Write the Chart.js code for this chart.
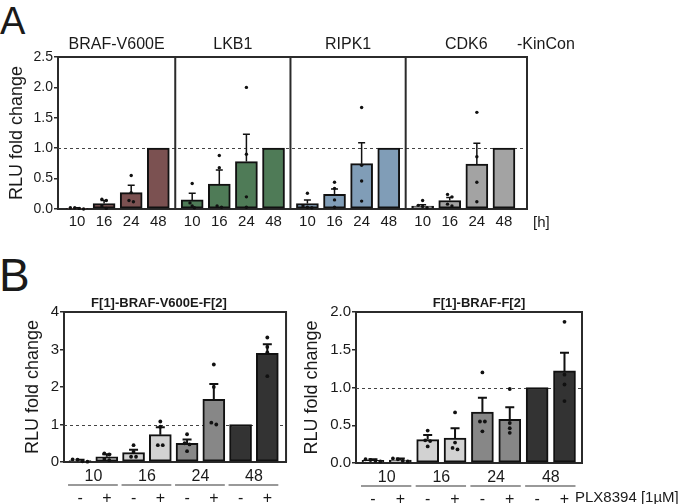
<!DOCTYPE html>
<html>
<head>
<meta charset="utf-8">
<script src="https://cdn.jsdelivr.net/npm/chart.js@4/dist/chart.umd.min.js"></script>
<style>
  body { margin: 0; background: #fff; width: 684px; height: 504px; overflow: hidden; position: relative; font-family: "Liberation Sans", Arial, sans-serif; }
  .panel { position: absolute; }
  .letter { position: absolute; color: #1a1a1a; line-height: 1; }
</style>
</head>
<body>
<div class="letter" style="left:0;top:2px;font-size:38px">A</div>
<div class="letter" style="left:-1px;top:252px;font-size:46px">B</div>
<div class="panel" style="left:0;top:0;width:620px;height:240px"><canvas id="chartA"></canvas></div>
<div class="panel" style="left:0;top:255px;width:300px;height:249px"><canvas id="chartB1"></canvas></div>
<div class="panel" style="left:300px;top:255px;width:384px;height:249px"><canvas id="chartB2"></canvas></div>
<script>
// ---- panel A: kinase constructs over time ----
const kinases = ['BRAF-V600E', 'LKB1', 'RIPK1', 'CDK6'];
const hours = ['10', '16', '24', '48'];
const meanA = [
    [0.01, 0.09, 0.27, 1.0],
    [0.15, 0.41, 0.78, 1.0],
    [0.09, 0.24, 0.745, 1.0],
    [0.05, 0.14, 0.74, 1.0]
];
const semA = [
    [0.01, 0.05, 0.12, 0],
    [0.11, 0.23, 0.45, 0],
    [0.06, 0.09, 0.345, 0],
    [0.02, 0.05, 0.34, 0]
];
const dotsA = [
    [[0.02, 0.02, 0.01, 0.0], [0.16, 0.14, 0.05, 0.01], [0.55, 0.27, 0.14, 0.12], []],
    [[0.42, 0.1, 0.05, 0.02], [0.88, 0.68, 0.05, 0.03], [2.0, 0.9, 0.2, 0.03], []],
    [[0.26, 0.05, 0.03, 0.02], [0.44, 0.34, 0.15, 0.03], [1.67, 0.72, 0.46, 0.13], []],
    [[0.14, 0.06, 0.04, 0.02], [0.24, 0.2, 0.08, 0.05], [1.59, 0.86, 0.44, 0.12], []]
];
const yTicksA = [0, 0.5, 1, 1.5, 2, 2.5];

// ---- panel B: split BRAF constructs +/- PLX8394 ----
const groupsB = ['10', '16', '24', '48'];
const drugB = ['-', '+'];
const titlesB = ['F[1]-BRAF-V600E-F[2]', 'F[1]-BRAF-F[2]'];
const meanB1 = [0.04, 0.14, 0.25, 0.73, 0.5, 1.67, 1.0, 2.9];
const semB1 = [0.02, 0.07, 0.08, 0.2, 0.1, 0.41, 0, 0.24];
const dotsB1 = [
    [0.07, 0.06, 0.02, 0.01], [0.23, 0.2, 0.08, 0.05],
    [0.45, 0.27, 0.14, 0.14], [1.08, 0.94, 0.45, 0.45],
    [0.74, 0.5, 0.47, 0.29], [2.6, 2.0, 1.05, 1.0],
    [], [3.32, 3.07, 2.92, 2.29]
];
const meanB2 = [0.035, 0.04, 0.31, 0.33, 0.675, 0.58, 1.0, 1.22];
const semB2 = [0.015, 0.02, 0.06, 0.13, 0.19, 0.16, 0, 0.24];
const dotsB2 = [
    [0.05, 0.04, 0.03, 0.02], [0.06, 0.05, 0.03, 0.02],
    [0.43, 0.3, 0.29, 0.22], [0.67, 0.27, 0.2, 0.18],
    [1.2, 0.55, 0.55, 0.42], [0.98, 0.53, 0.46, 0.4],
    [], [1.87, 1.17, 1.04, 0.82]
];
const yTicksB1 = [0, 1, 2, 3, 4];
const yTicksB2 = [0, 0.5, 1, 1.5, 2];

// styles
const FONT = '"Liberation Sans", Arial, sans-serif';
const TEXT = '#1a1a1a';
const LINE = '#2b2b2b';
const kinaseColors = ['#7b5151', '#4f7b57', '#809db7', '#a3a3a3'];
const timeColors = ['#ffffff', '#d2d2d2', '#878787', '#333333'];
const GROUP_GAP = 1.25; // extra spacing between kinase groups in panel A

// draws reference line, error bars, dots, frame and extra labels
function decor(cfg) {
    return {
        id: 'decor',
        beforeDatasetsDraw(chart) {
            const { ctx, chartArea: a, scales: { y } } = chart;
            const ref = Math.round(y.getPixelForValue(1)) + 0.5;
            ctx.save();
            ctx.strokeStyle = '#444';
            ctx.lineWidth = 1;
            ctx.setLineDash([3, 3]);
            ctx.beginPath();
            ctx.moveTo(a.left, ref);
            ctx.lineTo(a.right, ref);
            ctx.stroke();
            ctx.restore();
        },
        afterDatasetsDraw(chart) {
            const { ctx, scales: { y } } = chart;
            const bars = chart.getDatasetMeta(0).data;
            ctx.save();
            ctx.strokeStyle = '#111';
            ctx.fillStyle = '#111';
            ctx.lineWidth = cfg.errWidth;
            bars.forEach((bar, i) => {
                if (cfg.sems[i] > 0) {
                    const top = y.getPixelForValue(cfg.means[i] + cfg.sems[i]);
                    ctx.beginPath();
                    ctx.moveTo(bar.x, bar.y);
                    ctx.lineTo(bar.x, top);
                    ctx.moveTo(bar.x - cfg.cap, top);
                    ctx.lineTo(bar.x + cfg.cap, top);
                    ctx.stroke();
                }
                const pts = (cfg.dots[i] || []).map(v => y.getPixelForValue(v));
                pts.forEach((py, j) => {
                    // spread dots that would sit on top of each other
                    const cluster = pts.map((q, k) => k).filter(k => Math.abs(pts[k] - py) < cfg.dotR * 2.2);
                    const rank = cluster.indexOf(j);
                    const dx = (rank - (cluster.length - 1) / 2) * cfg.dotR * 2.6;
                    ctx.beginPath();
                    ctx.arc(bar.x + dx, py, cfg.dotR, 0, Math.PI * 2);
                    ctx.fill();
                });
            });
            ctx.restore();
        },
        afterDraw(chart) {
            const { ctx, chartArea: a, scales: { x } } = chart;
            ctx.save();
            ctx.strokeStyle = LINE;
            ctx.lineWidth = 2;
            ctx.beginPath();
            ctx.moveTo(a.left, a.top);
            ctx.lineTo(a.right, a.top);
            ctx.lineTo(a.right, a.bottom);
            (cfg.separators || []).forEach(v => {
                const px = x.getPixelForValue(v);
                ctx.moveTo(px, a.top);
                ctx.lineTo(px, a.bottom);
            });
            ctx.stroke();
            ctx.fillStyle = TEXT;
            ctx.textBaseline = 'middle';
            cfg.annotate(chart, ctx, a);
            ctx.restore();
        }
    };
}

function barChart(id, cfg) {
    return new Chart(document.getElementById(id), {
        type: 'bar',
        data: {
            datasets: [{
                data: cfg.positions.map((x, i) => ({ x: x, y: cfg.means[i] })),
                backgroundColor: cfg.colors,
                borderColor: '#111',
                borderWidth: 2,
                borderSkipped: false,
                barThickness: 22
            }]
        },
        options: {
            responsive: true,
            maintainAspectRatio: false,
            animation: false,
            events: [],
            layout: { padding: cfg.padding },
            plugins: { legend: { display: false }, tooltip: { enabled: false } },
            scales: {
                x: {
                    type: 'linear',
                    min: cfg.xMin,
                    max: cfg.xMax,
                    offset: false,
                    grid: { display: false, drawTicks: false, offset: false },
                    border: { display: true, color: LINE, width: 2 },
                    afterBuildTicks: s => { s.ticks = cfg.positions.map(v => ({ value: v })); },
                    afterFit: s => { s.height = cfg.xHeight; },
                    ticks: {
                        autoSkip: false, maxRotation: 0, padding: cfg.xPad, color: TEXT,
                        font: { family: FONT, size: cfg.xFont },
                        callback: (v, i) => cfg.tickLabels[i]
                    }
                },
                y: {
                    min: cfg.yTicks[0],
                    max: cfg.yTicks[cfg.yTicks.length - 1],
                    afterBuildTicks: s => { s.ticks = cfg.yTicks.map(v => ({ value: v })); },
                    afterFit: s => { s.width = cfg.yWidth; },
                    grid: { display: true, drawOnChartArea: false, drawTicks: true, tickLength: 4, color: LINE, lineWidth: 1.5 },
                    border: { display: true, color: LINE, width: 2 },
                    ticks: {
                        padding: 1, color: TEXT,
                        font: { family: FONT, size: cfg.yFont },
                        callback: v => v.toFixed(cfg.yDecimals)
                    },
                    title: {
                        display: true, text: 'RLU fold change', color: TEXT,
                        font: { family: FONT, size: 18 },
                        padding: { top: cfg.yTitlePad, bottom: 0 }
                    }
                }
            }
        },
        plugins: [decor(cfg)]
    });
}

// panel A
const step = hours.length - 1 + GROUP_GAP;
const posA = [], colA = [], labA = [], sepA = [];
kinases.forEach((k, g) => {
    hours.forEach((h, i) => {
        posA.push(g * step + i);
        colA.push(kinaseColors[g]);
        labA.push(h);
    });
    if (g > 0) sepA.push(g * step - GROUP_GAP / 2);
});

barChart('chartA', {
    positions: posA,
    means: meanA.flat(),
    sems: semA.flat(),
    dots: dotsA.flat(),
    colors: colA,
    tickLabels: labA,
    separators: sepA,
    xMin: -0.7,
    xMax: posA[posA.length - 1] + 0.85,
    yTicks: yTicksA,
    yDecimals: 1,
    padding: { left: 0, top: 57, right: 93, bottom: 0 },
    yWidth: 58,
    xHeight: 31,
    xPad: 4,
    xFont: 15,
    yFont: 14,
    yTitlePad: 6,
    errWidth: 1.5,
    cap: 3.5,
    dotR: 1.7,
    annotate(chart, ctx, a) {
        const x = chart.scales.x;
        const edges = [a.left].concat(sepA.map(v => x.getPixelForValue(v)), [a.right]);
        ctx.font = '16px ' + FONT;
        ctx.textAlign = 'center';
        kinases.forEach((k, g) => ctx.fillText(k, (edges[g] + edges[g + 1]) / 2, 45));
        ctx.textAlign = 'left';
        ctx.fillText('-KinCon', a.right - 10, 45);
        ctx.font = '15px ' + FONT;
        ctx.fillText('[h]', a.right + 6, 223);
    }
});

// panel B
function panelB(id, title, means, sems, dots, yTicks, yDecimals, opts) {
    const pos = [], col = [], lab = [];
    groupsB.forEach((t, g) => drugB.forEach((d, j) => {
        pos.push(g * drugB.length + j);
        col.push(timeColors[g]);
        lab.push(d);
    }));
    barChart(id, Object.assign({
        positions: pos,
        means: means,
        sems: sems,
        dots: dots,
        colors: col,
        tickLabels: lab,
        yTicks: yTicks,
        yDecimals: yDecimals,
        xPad: 27,
        xFont: 16,
        yFont: 15,
        errWidth: 2,
        cap: 4.5,
        dotR: 1.9,
        annotate(chart, ctx, a) {
            const bars = chart.getDatasetMeta(0).data;
            ctx.font = 'bold 13px ' + FONT;
            ctx.textAlign = 'center';
            ctx.fillText(title, opts.titleX, 48);
            ctx.font = '16px ' + FONT;
            ctx.strokeStyle = '#777';
            ctx.lineWidth = 1.5;
            groupsB.forEach((t, g) => {
                const b0 = bars[g * 2], b1 = bars[g * 2 + 1];
                ctx.fillText(t, (b0.x + b1.x) / 2, a.bottom + 15);
                ctx.beginPath();
                ctx.moveTo(b0.x - 12, a.bottom + 23);
                ctx.lineTo(b1.x + 11, a.bottom + 23);
                ctx.stroke();
            });
            if (opts.drugLabel) {
                ctx.font = '15px ' + FONT;
                ctx.textAlign = 'left';
                ctx.fillText(opts.drugLabel, a.right - 7, a.bottom + 35);
            }
        }
    }, opts));
}

panelB('chartB1', titlesB[0], meanB1, semB1, dotsB1, yTicksB1, 0, {
    xMin: -0.6, xMax: 7.7,
    padding: { left: 0, top: 57, right: 12, bottom: 0 },
    yWidth: 64, xHeight: 42, yTitlePad: 22, titleX: 159
});
panelB('chartB2', titlesB[1], meanB2, semB2, dotsB2, yTicksB2, 1, {
    xMin: -0.62, xMax: 7.64,
    padding: { left: 0, top: 57, right: 102, bottom: 0 },
    yWidth: 56, xHeight: 41, yTitlePad: 1, titleX: 179,
    drugLabel: 'PLX8394 [1µM]'
});
</script>
</body>
</html>
